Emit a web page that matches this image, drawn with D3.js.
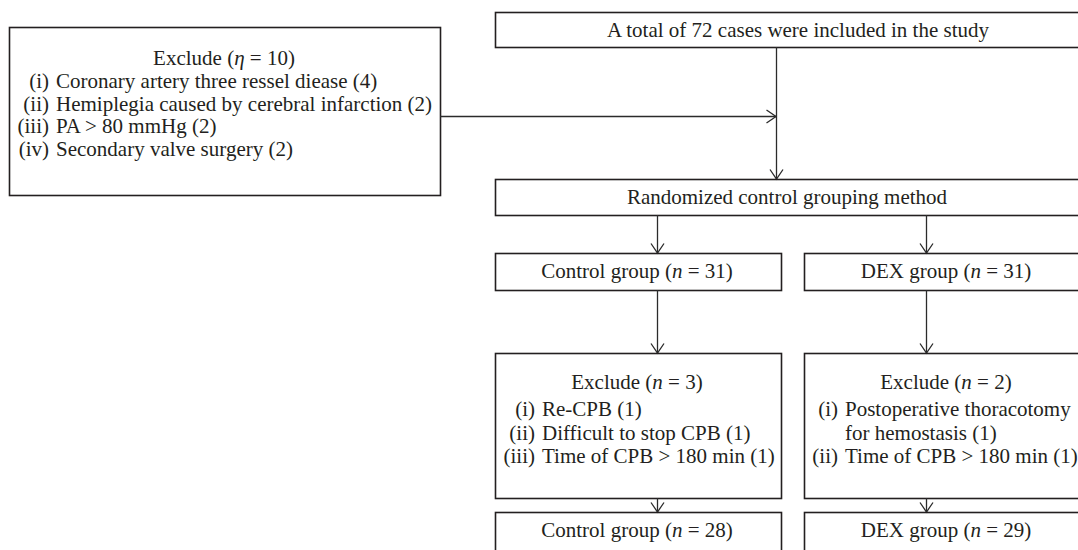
<!DOCTYPE html>
<html>
<head>
<meta charset="utf-8">
<script src="https://cdn.jsdelivr.net/npm/d3@7/dist/d3.min.js"></script>
<style>
  html, body { margin: 0; padding: 0; background: #fff; }
  svg { display: block; }
  text { font-family: "Liberation Serif", "DejaVu Serif", serif; fill: #231f20; }
</style>
</head>
<body>
<svg id="chart" width="1078" height="550"></svg>
<script>
// ---------- DATA ----------
const totalCases = 72;
const topLabel = "A total of 72 cases were included in the study";
const randomLabel = "Randomized control grouping method";
const romanLabels = ["(i)", "(ii)", "(iii)", "(iv)"];
const preExcludedTotal = 10;
const preExclusionReasons = [
  ["Coronary artery three ressel diease"],
  ["Hemiplegia caused by cerebral infarction"],
  ["PA > 80 mmHg"],
  ["Secondary valve surgery"]
];
const preExclusionCounts = [4, 2, 2, 2];
const groups = ["Control group", "DEX group"];
const randomizedCounts = [31, 31];
const groupExcludedTotals = [3, 2];
const groupExclusionReasons = [
  [["Re-CPB"], ["Difficult to stop CPB"], ["Time of CPB > 180 min"]],
  [["Postoperative thoracotomy", "for hemostasis"], ["Time of CPB > 180 min"]]
];
const groupExclusionCounts = [[1, 1, 1], [1, 1]];
const finalCounts = [28, 29];

// ---------- LAYOUT ----------
const svg = d3.select("#chart");
const FS = 21;
const boxStroke = "#231f20";
const lineStroke = "#2b2b2b";

const rowY = {
  top: [12, 47],
  random: [179, 215],
  group: [253, 290],
  excl: [353, 498],
  final: [512, 580]
};
const colBoxX = d3.scaleOrdinal().domain(groups).range([495, 804]);
const colBoxW = 286;
const colArrowX = d3.scaleOrdinal().domain(groups).range([657, 926]);
const colTextX = d3.scaleOrdinal().domain(groups).range([637, 946]);
const colLabelEnd = d3.scaleOrdinal().domain(groups).range([535, 838]);
const mainX = 776;

function box(x, y0, y1, w) {
  svg.append("rect")
    .attr("x", x + 0.5).attr("y", y0 + 0.5)
    .attr("width", w).attr("height", y1 - y0)
    .attr("fill", "none").attr("stroke", boxStroke).attr("stroke-width", 1.6);
}
function downArrow(x, y0, y1) {
  svg.append("line").attr("x1", x + 0.5).attr("x2", x + 0.5).attr("y1", y0).attr("y2", y1)
    .attr("stroke", lineStroke).attr("stroke-width", 1.3);
  svg.append("path").attr("d", `M${x - 6},${y1 - 9.5}L${x + 0.5},${y1}L${x + 7},${y1 - 9.5}`)
    .attr("fill", "none").attr("stroke", lineStroke).attr("stroke-width", 1.3);
}
function rightArrow(x0, x1, y) {
  svg.append("line").attr("x1", x0).attr("x2", x1).attr("y1", y + 0.5).attr("y2", y + 0.5)
    .attr("stroke", lineStroke).attr("stroke-width", 1.3);
  svg.append("path").attr("d", `M${x1 - 9.5},${y - 6}L${x1},${y + 0.5}L${x1 - 9.5},${y + 7}`)
    .attr("fill", "none").attr("stroke", lineStroke).attr("stroke-width", 1.3);
}
function nText(x, y, prefix, sym, val, anchor) {
  const t = svg.append("text").attr("x", x).attr("y", y)
    .attr("text-anchor", anchor || "middle").attr("dominant-baseline", "central")
    .attr("font-size", FS);
  t.append("tspan").text(prefix + " (");
  t.append("tspan").attr("font-style", "italic").text(sym);
  t.append("tspan").text(" = " + val + ")");
  return t;
}
function plainText(x, y, str, anchor) {
  return svg.append("text").attr("x", x).attr("y", y)
    .attr("text-anchor", anchor || "middle").attr("dominant-baseline", "central")
    .attr("font-size", FS).text(str);
}
function itemList(labelEnd, y0, dy, reasons, counts) {
  let y = y0;
  reasons.forEach((lines, i) => {
    lines.forEach((ln, j) => {
      if (j === 0) plainText(labelEnd, y, romanLabels[i], "end");
      const s = j === lines.length - 1 ? ln + " (" + counts[i] + ")" : ln;
      plainText(labelEnd + 7, y, s, "start");
      y += dy;
    });
  });
}

// ---------- LEFT EXCLUSION BOX ----------
box(9, 27, 195, 431);
nText(224, 58, "Exclude", "\u03b7", preExcludedTotal);
itemList(49, 81, 22.5, preExclusionReasons, preExclusionCounts);

// ---------- TOP + RANDOMIZATION ----------
box(495, rowY.top[0], rowY.top[1], 620);
plainText(798, 30, topLabel);
downArrow(mainX, rowY.top[1], rowY.random[0]);
rightArrow(440, mainX, 116);

box(495, rowY.random[0], rowY.random[1], 620);
plainText(787, 197, randomLabel);

// ---------- GROUP COLUMNS ----------
groups.forEach((g, gi) => {
  const bx = colBoxX(g), ax = colArrowX(g), tx = colTextX(g);
  downArrow(ax, rowY.random[1], rowY.group[0]);
  box(bx, rowY.group[0], rowY.group[1], colBoxW);
  nText(tx, 271, g, "n", randomizedCounts[gi]);

  downArrow(ax, rowY.group[1], rowY.excl[0]);
  box(bx, rowY.excl[0], rowY.excl[1], colBoxW);
  nText(tx, 382, "Exclude", "n", groupExcludedTotals[gi]);
  itemList(colLabelEnd(g), 409, 23.5, groupExclusionReasons[gi], groupExclusionCounts[gi]);

  downArrow(ax, rowY.excl[1], rowY.final[0]);
  box(bx, rowY.final[0], rowY.final[1], colBoxW);
  nText(tx, 530, g, "n", finalCounts[gi]);
});
</script>
</body>
</html>
